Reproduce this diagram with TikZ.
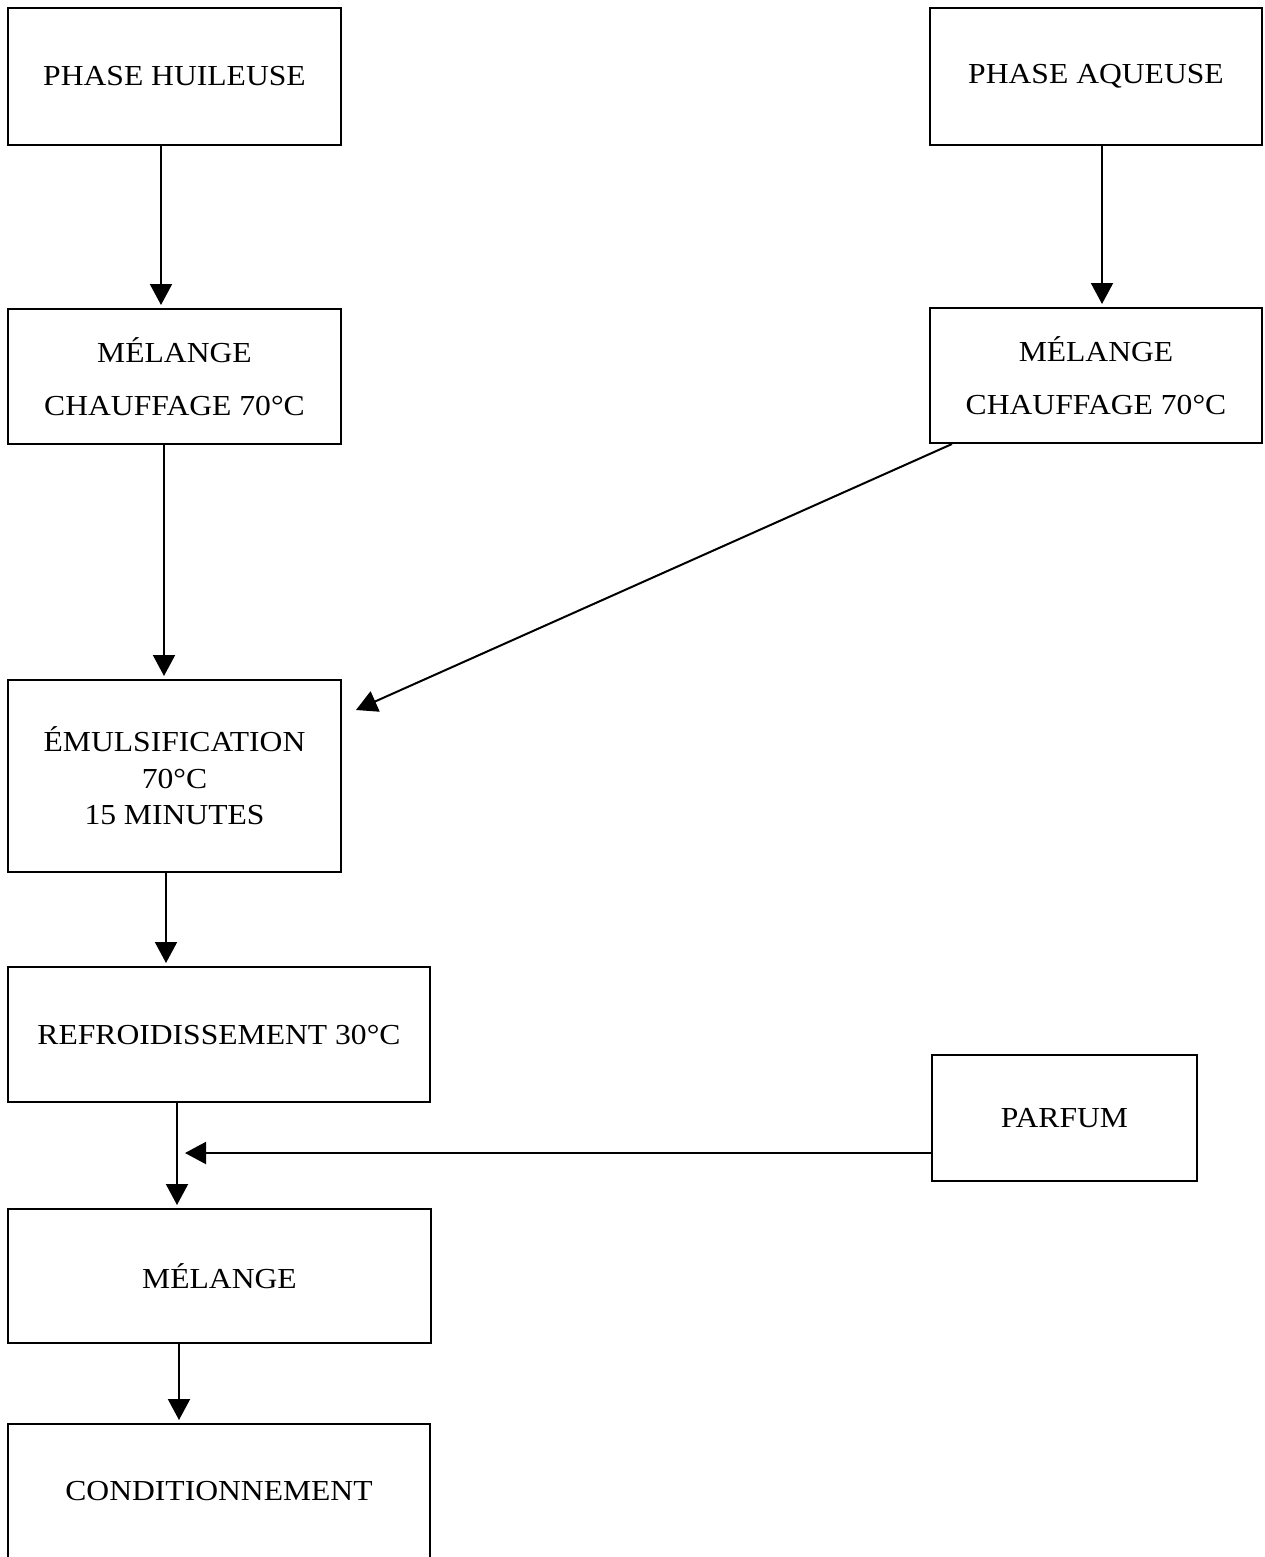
\documentclass[tikz,border=0pt]{standalone}
\usepackage{fontspec}
\setmainfont{Liberation Serif}[FakeStretch=1.09]
\usetikzlibrary{arrows.meta}
\begin{document}
\begin{tikzpicture}[x=1pt,y=-1pt,
  box/.style={draw,line width=2pt,rectangle,inner sep=0pt,align=center,
    font=\fontsize{29}{36.5}\selectfont},
  arr/.style={line width=2pt,-{Triangle[length=21pt,width=22pt]},shorten >=3pt}]
\useasboundingbox (0,0) rectangle (1264,1557);
\node[box,minimum width=333pt,minimum height=137pt] (hu) at (174.5,76.5) {PHASE HUILEUSE};
\node[box,minimum width=332pt,minimum height=137pt] (aq) at (1096,76.5) {PHASE AQUEUSE};
\node[box,minimum width=333pt,minimum height=135pt] (m1) at (174.5,376.5) {MÉLANGE\\[17pt]CHAUFFAGE 70°C};
\node[box,minimum width=332pt,minimum height=135pt] (m2) at (1096,375.5) {MÉLANGE\\[17pt]CHAUFFAGE 70°C};
\node[box,minimum width=333pt,minimum height=192pt] (em) at (174.5,776) {ÉMULSIFICATION\\70°C\\15 MINUTES};
\node[box,minimum width=422pt,minimum height=135pt] (re) at (219,1034.5) {REFROIDISSEMENT 30°C};
\node[box,minimum width=265pt,minimum height=126pt] (pa) at (1064.5,1118) {PARFUM};
\node[box,minimum width=423pt,minimum height=134pt] (me) at (219.5,1276) {MÉLANGE};
\node[box,minimum width=422pt,minimum height=134pt] (co) at (219,1491) {CONDITIONNEMENT};
\coordinate (dtip) at (356,710);
\coordinate (ptip) at (185,1153);
\draw[arr] (hu.south -| 161,0) -- (m1.north -| 161,0);
\draw[arr] (aq.south -| 1102,0) -- (m2.north -| 1102,0);
\draw[arr] (m1.south -| 164,0) -- (em.north -| 164,0);
\draw[arr,shorten >=0pt] (m2.south -| 952,0) -- (dtip);
\draw[arr] (em.south -| 166,0) -- (re.north -| 166,0);
\draw[arr] (re.south -| 177,0) -- (me.north -| 177,0);
\draw[arr,shorten >=0pt] ([yshift=-35pt]pa.west) -- (ptip);
\draw[arr] (me.south -| 179,0) -- (co.north -| 179,0);
\end{tikzpicture}
\end{document}
